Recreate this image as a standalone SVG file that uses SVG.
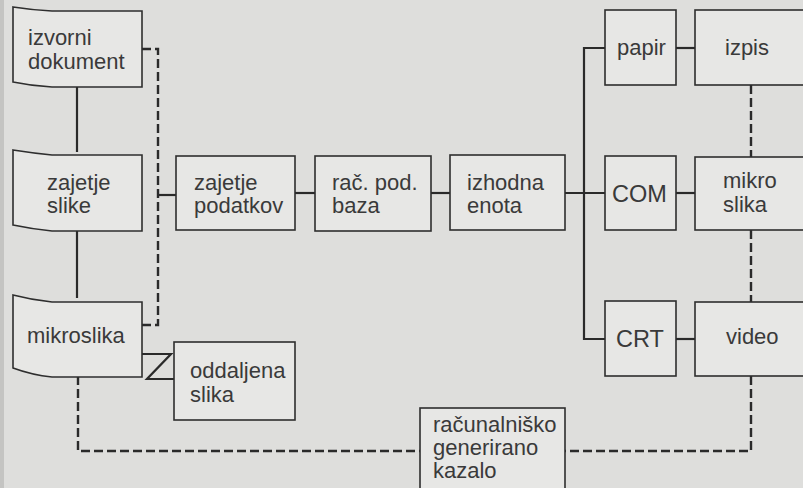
<svg xmlns="http://www.w3.org/2000/svg" width="803" height="488" viewBox="0 0 803 488">
<style>
.bx{fill:#e7e7e5;stroke:#2e2e2e;stroke-width:1.6}
.t{font-family:"Liberation Sans",Arial,sans-serif;font-size:22px;fill:#3a3a3a}
.big{font-size:23.5px}
.ln{fill:none;stroke:#2a2a2a;stroke-width:2.2}
.ds{fill:none;stroke:#2a2a2a;stroke-width:2.4;stroke-dasharray:9 4}
</style>
<rect width="803" height="488" fill="#dededc"/>
<rect width="4" height="488" fill="#c4c4c2"/>
<g id="connectors">
<path class="ln" d="M77,87 V152"/>
<path class="ln" d="M77,230 V298"/>
<path class="ds" d="M142,49 H158 V325 H142"/>
<path class="ln" d="M158,195 H176"/>
<path class="ln" d="M295,193 H315"/>
<path class="ln" d="M431,193 H450"/>
<path class="ln" d="M565,193 H605"/>
<path class="ln" d="M605,48 H584 V339 H605"/>
<path class="ln" d="M676,48 H695"/>
<path class="ln" d="M676,193 H695"/>
<path class="ln" d="M676,339 H695"/>
<path class="ds" d="M751,85 V157"/>
<path class="ds" d="M751,230 V302"/>
<path class="ds" d="M751,376 V451 H565"/>
<path class="ds" d="M78,376 V451 H420"/>
<path class="ln" d="M142,354 H171 L147,379 H174"/>
</g>
<g id="izvorni-dokument">
<path class="bx" d="M13,7 Q32,10 52,11 H142 V87 H52 Q32,86 13,82 Z"/>
<text class="t" x="28" y="45">izvorni</text>
<text class="t" x="28" y="69">dokument</text>
</g>
<g id="zajetje-slike">
<path class="bx" d="M13,150 Q32,153 52,155 H142 V231 H52 Q32,229 13,225 Z"/>
<text class="t" x="47" y="190">zajetje</text>
<text class="t" x="47" y="213">slike</text>
</g>
<g id="mikroslika">
<path class="bx" d="M13,295 Q32,300 52,302 H142 V377 H52 Q32,375 13,368 Z"/>
<text class="t" x="27" y="343">mikroslika</text>
</g>
<g id="zajetje-podatkov">
<rect class="bx" x="176" y="156" width="119" height="74"/>
<text class="t" x="194" y="190">zajetje</text>
<text class="t" x="194" y="213">podatkov</text>
</g>
<g id="rac-pod-baza">
<rect class="bx" x="315" y="156" width="116" height="75"/>
<text class="t" x="332" y="190">rač. pod.</text>
<text class="t" x="332" y="213">baza</text>
</g>
<g id="izhodna-enota">
<rect class="bx" x="450" y="155" width="115" height="75"/>
<text class="t" x="467" y="190">izhodna</text>
<text class="t" x="467" y="213">enota</text>
</g>
<g id="papir">
<rect class="bx" x="605" y="10" width="71" height="75"/>
<text class="t" x="617" y="55">papir</text>
</g>
<g id="izpis">
<rect class="bx" x="695" y="10" width="120" height="75"/>
<text class="t" x="725" y="55">izpis</text>
</g>
<g id="COM">
<rect class="bx" x="605" y="156" width="71" height="74"/>
<text class="t big" x="612" y="202">COM</text>
</g>
<g id="mikro-slika">
<rect class="bx" x="695" y="157" width="120" height="73"/>
<text class="t" x="723" y="188">mikro</text>
<text class="t" x="723" y="212">slika</text>
</g>
<g id="CRT">
<rect class="bx" x="605" y="301" width="71" height="75"/>
<text class="t big" x="616" y="347">CRT</text>
</g>
<g id="video">
<rect class="bx" x="695" y="302" width="120" height="74"/>
<text class="t" x="726" y="344">video</text>
</g>
<g id="oddaljena-slika">
<rect class="bx" x="174" y="342" width="121" height="78"/>
<text class="t" x="190" y="378">oddaljena</text>
<text class="t" x="190" y="402">slika</text>
</g>
<g id="racunalnisko-kazalo">
<rect class="bx" x="420" y="408" width="145" height="90"/>
<text class="t" x="433" y="432">računalniško</text>
<text class="t" x="433" y="455">generirano</text>
<text class="t" x="433" y="478">kazalo</text>
</g>
</svg>
